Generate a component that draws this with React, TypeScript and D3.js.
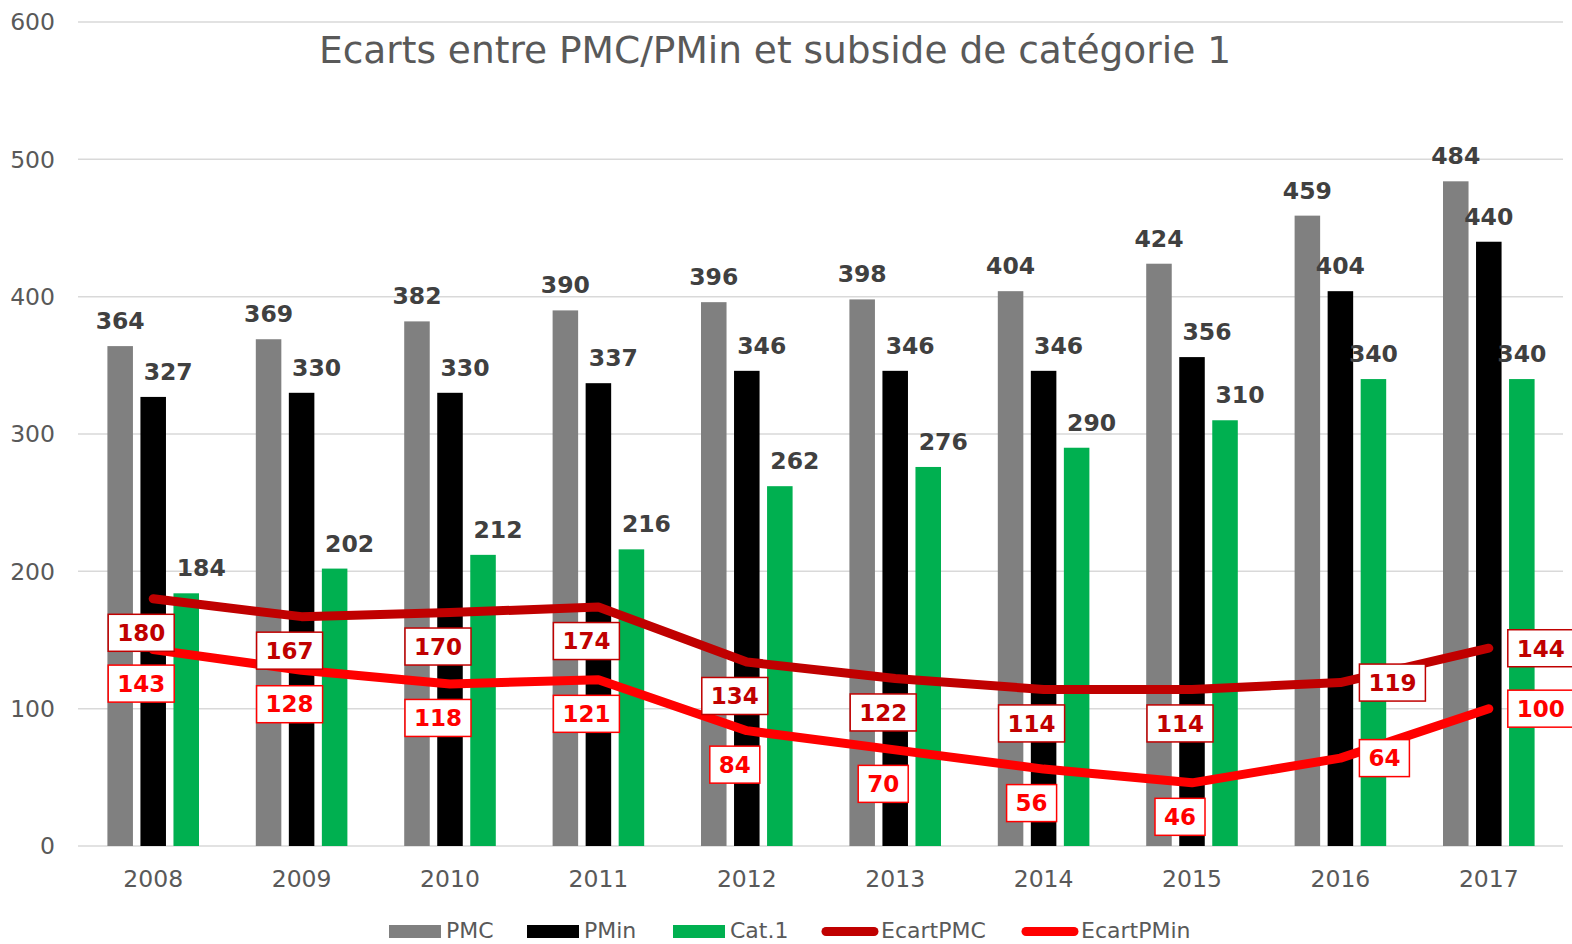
import React from 'react'
import * as d3 from 'd3'

const years = ['2008', '2009', '2010', '2011', '2012', '2013', '2014', '2015', '2016', '2017']
const pmc = [364, 369, 382, 390, 396, 398, 404, 424, 459, 484]
const pmin = [327, 330, 330, 337, 346, 346, 346, 356, 404, 440]
const cat1 = [184, 202, 212, 216, 262, 276, 290, 310, 340, 340]
const ecartPMC = [180, 167, 170, 174, 134, 122, 114, 114, 119, 144]
const ecartPMin = [143, 128, 118, 121, 84, 70, 56, 46, 64, 100]
const yTicks = [0, 100, 200, 300, 400, 500, 600]

const title = 'Ecarts entre PMC/PMin et subside de catégorie 1'
const FONT = "Verdana, 'DejaVu Sans', sans-serif"

const barSeries = [
  { key: 'PMC', values: pmc, color: '#808080' },
  { key: 'PMin', values: pmin, color: '#000000' },
  { key: 'Cat.1', values: cat1, color: '#00B050' },
]
const lineSeries = [
  { key: 'EcartPMC', values: ecartPMC, color: '#C00000' },
  { key: 'EcartPMin', values: ecartPMin, color: '#FF0000' },
]

export default function App() {
  const width = 1572, height = 944
  const margin = { top: 22, right: 9, bottom: 98, left: 79 }

  const x = d3.scaleBand<string>()
    .domain(years)
    .range([margin.left, width - margin.right])
  const inner = d3.scaleBand<string>()
    .domain(barSeries.map(s => s.key))
    .range([0, x.bandwidth()])
    .paddingInner(0.227)
    .paddingOuter(0.86)
  const y = d3.scaleLinear()
    .domain([0, 600])
    .range([height - margin.bottom, margin.top])

  const cx = (yr: string) => (x(yr) ?? 0) + x.bandwidth() / 2

  const line = d3.line<number>()
    .x((_, i) => cx(years[i]))
    .y(d => y(d))

  // legend layout
  const legend = [
    { key: 'PMC', color: '#808080', kind: 'bar', x: 389 },
    { key: 'PMin', color: '#000000', kind: 'bar', x: 527 },
    { key: 'Cat.1', color: '#00B050', kind: 'bar', x: 673 },
    { key: 'EcartPMC', color: '#C00000', kind: 'line', x: 822 },
    { key: 'EcartPMin', color: '#FF0000', kind: 'line', x: 1022 },
  ]

  return (
    <svg width={width} height={height}
      style={{ position: 'absolute', left: 0, top: 0, background: '#fff', fontFamily: FONT }}>
      {yTicks.map(t => (
        <g key={t}>
          <line x1={margin.left - 1} x2={width - margin.right} y1={y(t)} y2={y(t)}
            stroke="#D9D9D9" strokeWidth={1.5} />
          <text x={55} y={y(t)} dy="0.35em" textAnchor="end" fontSize={23.5} fill="#595959">{t}</text>
        </g>
      ))}

      <text x={775} y={63} textAnchor="middle" fontSize={37.5} fill="#595959">{title}</text>

      {years.map(yr => (
        <text key={yr} x={cx(yr)} y={887} textAnchor="middle" fontSize={23.5} fill="#595959">{yr}</text>
      ))}

      {barSeries.map(s => (
        <g key={s.key}>
          {s.values.map((v, i) => (
            <rect key={i}
              x={(x(years[i]) ?? 0) + (inner(s.key) ?? 0)}
              y={y(v)}
              width={inner.bandwidth()}
              height={y(0) - y(v)}
              fill={s.color} />
          ))}
        </g>
      ))}

      {barSeries.map((s, si) => (
        <g key={s.key + '-lab'}>
          {s.values.map((v, i) => {
            // labels nudged right where they would crowd
            const nudge = si > 0 && i < 8 ? 15 : 0
            return (
              <text key={i}
                x={(x(years[i]) ?? 0) + (inner(s.key) ?? 0) + inner.bandwidth() / 2 + nudge}
                y={y(v) - 17}
                textAnchor="middle" fontSize={23.5} fontWeight="bold" fill="#404040">{v}</text>
            )
          })}
        </g>
      ))}

      {lineSeries.map(s => (
        <path key={s.key} d={line(s.values) ?? ''} fill="none" stroke={s.color}
          strokeWidth={9} strokeLinecap="round" strokeLinejoin="round" />
      ))}

      {lineSeries.map(s => (
        <g key={s.key + '-lab'}>
          {s.values.map((v, i) => {
            const txt = String(v)
            const bw = txt.length * 16 + 18
            const bh = 37
            const px = cx(years[i]), py = y(v)
            const right = i >= 8
            const bx = right ? px + 19 : px - 12 - bw / 2
            const by = right ? py - bh / 2 : py + 34 - bh / 2
            return (
              <g key={i}>
                <rect x={bx} y={by} width={bw} height={bh} fill="#fff" stroke={s.color} strokeWidth={1.5} />
                <text x={bx + bw / 2} y={by + bh / 2} dy="0.36em" textAnchor="middle"
                  fontSize={23} fontWeight="bold" fill={s.color}>{txt}</text>
              </g>
            )
          })}
        </g>
      ))}

      {legend.map(l => (
        <g key={l.key}>
          {l.kind === 'bar'
            ? <rect x={l.x} y={925} width={52} height={13} fill={l.color} />
            : <line x1={l.x + 4} x2={l.x + 52} y1={931.5} y2={931.5} stroke={l.color}
                strokeWidth={9} strokeLinecap="round" />}
          <text x={l.x + (l.kind === 'bar' ? 57 : 59)} y={938} fontSize={22} fill="#595959">{l.key}</text>
        </g>
      ))}
    </svg>
  )
}
